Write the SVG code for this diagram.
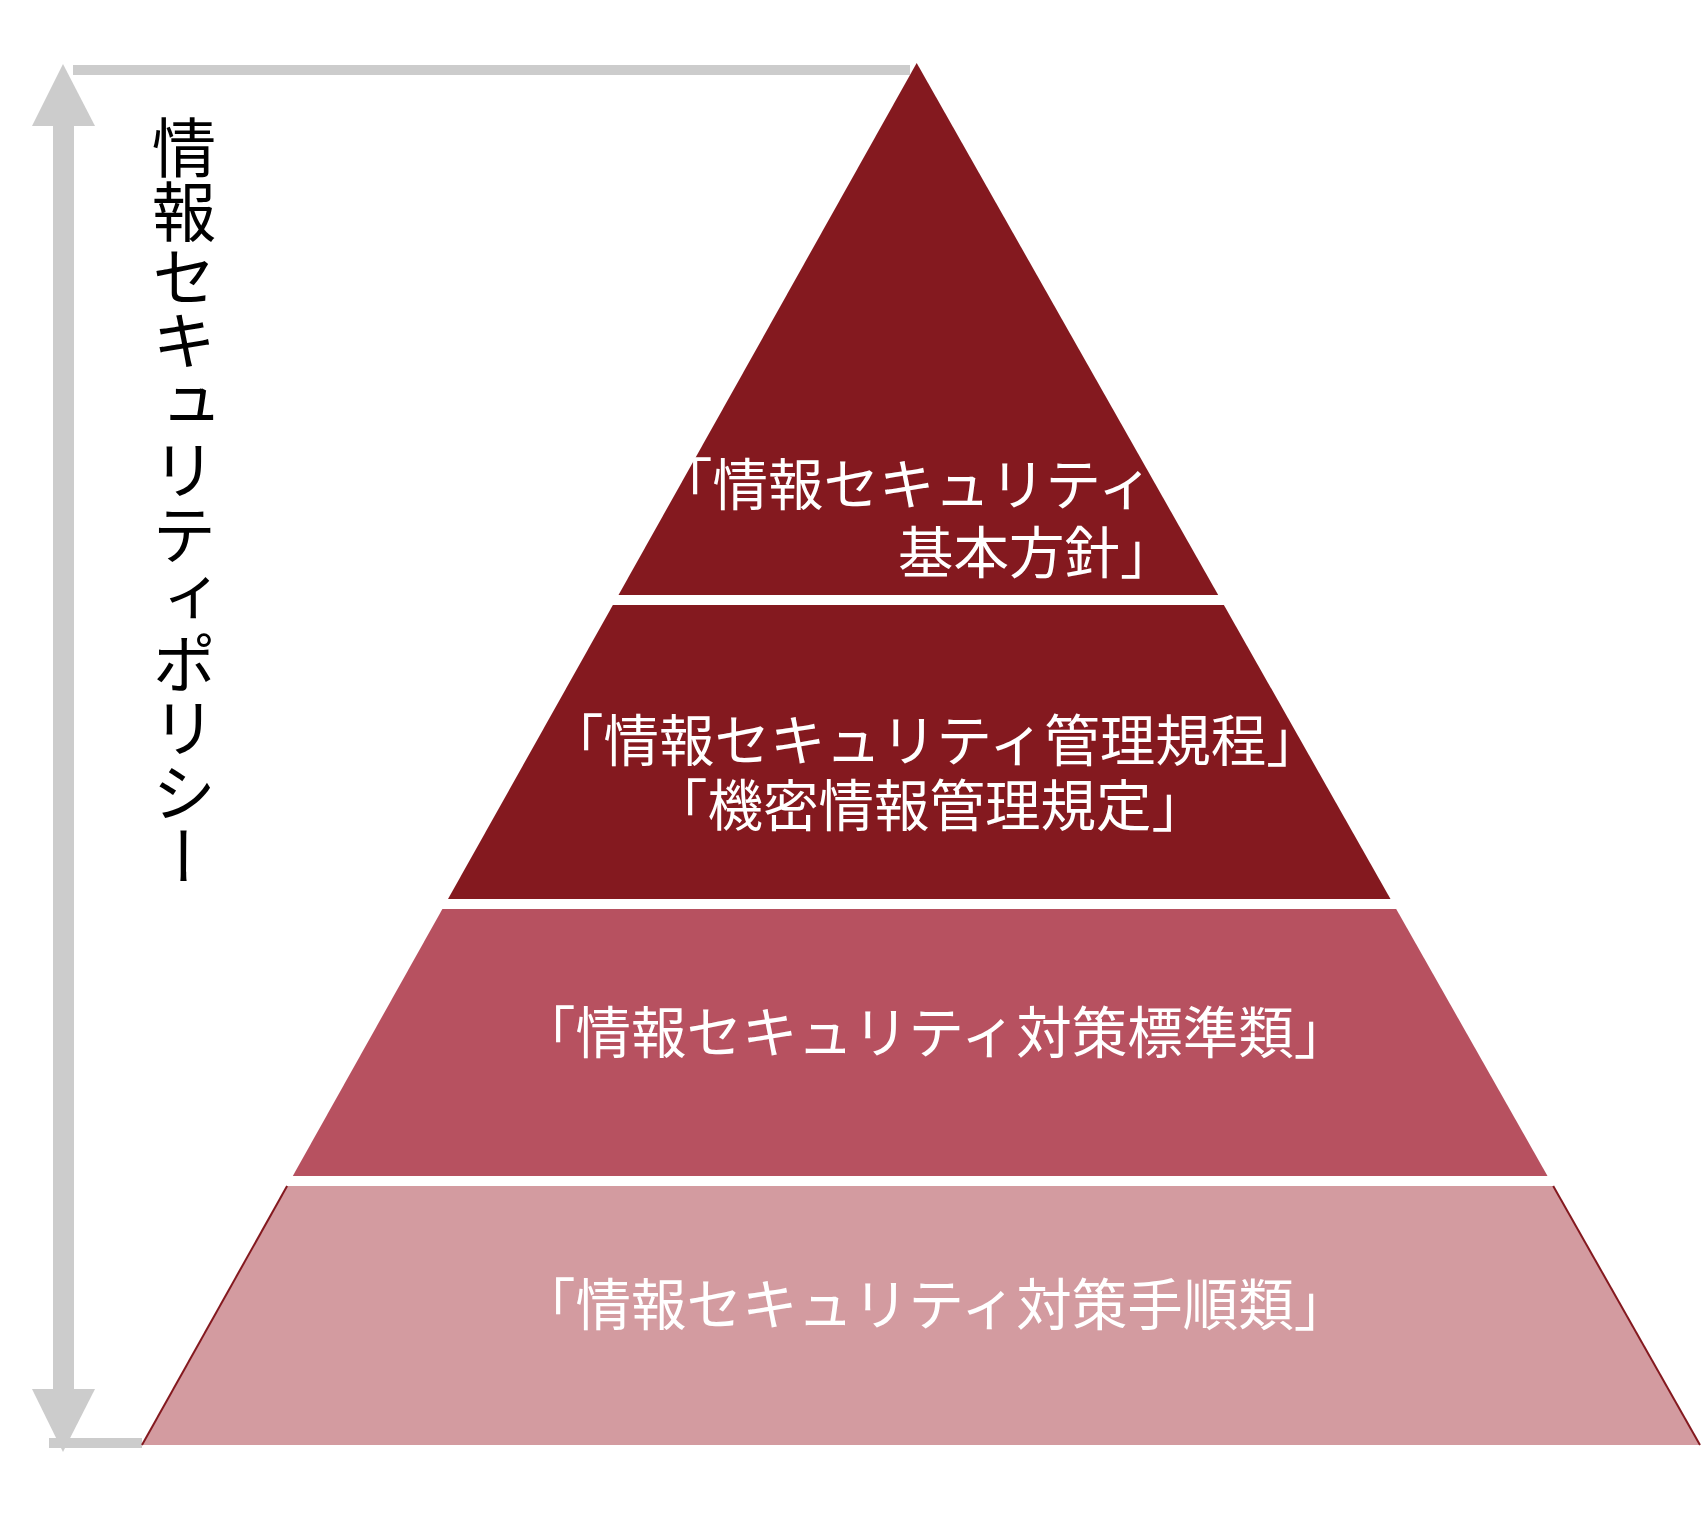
<svg xmlns="http://www.w3.org/2000/svg" width="1701" height="1516" viewBox="0 0 1701 1516">
<style>
.gray{fill:#CCCCCC}
.lbl{font-family:"Noto Sans CJK JP","Noto Sans CJK SC",sans-serif;font-size:55.5px;fill:#FFFFFF}
.vlbl{font-family:"Noto Sans CJK JP","Noto Sans CJK SC",sans-serif;font-size:64.5px;fill:#000000;writing-mode:vertical-rl}
.dark{fill:#84191F}
.mid{fill:#B75160}
.light{fill:#D39BA0}
</style>
<rect width="1701" height="1516" fill="#FFFFFF"/>
<g id="connectors">
  <rect class="gray" x="73" y="65" width="837" height="10"/>
  <rect class="gray" x="49" y="1438" width="93" height="10"/>
  <rect class="gray" x="53" y="125" width="21" height="1265"/>
  <polygon class="gray" points="63,64 32,126 95,126"/>
  <polygon class="gray" points="32,1389 95,1389 63,1452"/>
</g>
<g id="policy-label">
  <text class="vlbl" x="184" y="115">情報セキュリティポリシー</text>
</g>
<g id="band1">
  <polygon class="dark" points="916.7,63 1218.2,595 618.5,595"/>
  <text class="lbl" x="657" y="505">「情報セキュリティ</text>
  <text class="lbl" x="898" y="573">基本方針」</text>
</g>
<g id="band2">
  <polygon class="dark" points="612.9,605 1223.9,605 1390.5,899 448,899"/>
  <text class="lbl" x="548" y="761">「情報セキュリティ管理規程」</text>
  <text class="lbl" x="652" y="826">「機密情報管理規定」</text>
</g>
<g id="band3">
  <polygon class="mid" points="442.4,909 1396.2,909 1547.5,1176 292.8,1176"/>
  <text class="lbl" x="520" y="1053">「情報セキュリティ対策標準類」</text>
</g>
<g id="band4">
  <polygon class="light" points="287.1,1186 1553.2,1186 1700,1445 142,1445"/>
  <line x1="287.1" y1="1186" x2="142" y2="1445" stroke="#84191F" stroke-width="2"/>
  <line x1="1553.2" y1="1186" x2="1700" y2="1445" stroke="#84191F" stroke-width="2"/>
  <text class="lbl" x="520" y="1325">「情報セキュリティ対策手順類」</text>
</g>
</svg>
